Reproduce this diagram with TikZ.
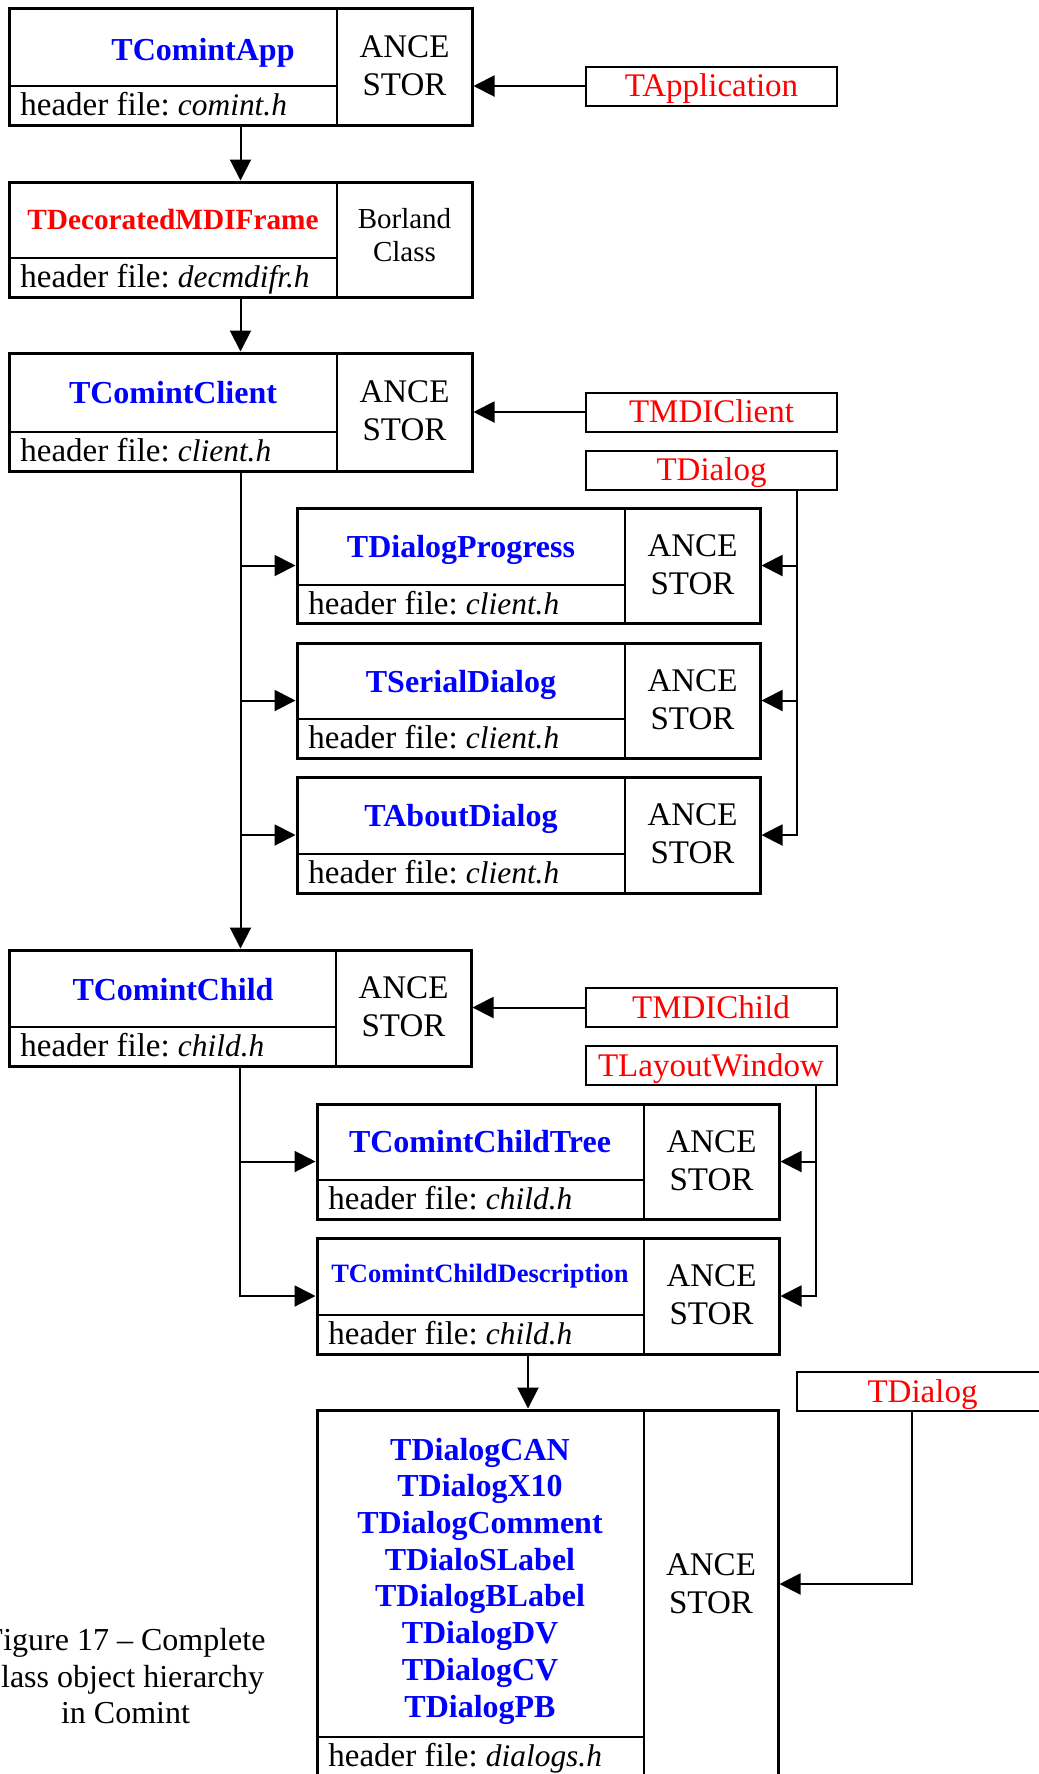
\documentclass[tikz,border=0pt]{standalone}
\usepackage{fontspec}
\setmainfont{Liberation Serif}
\usetikzlibrary{arrows.meta}
\definecolor{cblue}{RGB}{0,0,255}
\definecolor{cred}{RGB}{255,0,0}
\newcommand\regfont{\fontsize{16.5}{18.85}\selectfont\frenchspacing}
\newcommand\namefont{\fontsize{16}{18.35}\selectfont\bfseries}
\newcommand\hfname[1]{{\fontsize{15.7}{18}\selectfont\itshape #1}}
% #1 name, #2 left, #3 top, #4 right, #5 bottom, #6 vertical divider x, #7 horizontal divider y
\newcommand\clbox[7]{%
  \draw[divline] (#6,#3) -- (#6,#5);
  \draw[divline] (#2,#7) -- (#6,#7);
  \node[clsbox, minimum width={(#4-#2)*0.5pt}, minimum height={(#5-#3)*0.5pt}] (#1) at ({(#2+#4)/2},{(#3+#5)/2}) {};
}
\tikzset{
  clsbox/.style={draw, rectangle, line width=1.5pt, inner sep=0pt},
  divline/.style={line width=1pt},
  nm/.style={anchor=base, inner sep=0pt, font=\namefont, text=cblue},
  hd/.style={anchor=base west, inner sep=0pt, font=\regfont},
  anc/.style={align=center, inner sep=0pt, font=\regfont},
  pbox/.style={draw, rectangle, line width=1pt, inner sep=0pt, minimum width=125.5pt, minimum height=19.5pt, text height=11.5pt, text depth=0.6pt, text=cred, font=\regfont},
  arr/.style={line width=1pt, -{Triangle[length=10.5pt,width=10.5pt]}},
}
\begin{document}
\begin{tikzpicture}[x=0.5pt, y=-0.5pt]
\path[use as bounding box] (0,0) rectangle (1039,1774);
\clip (0,0) rectangle (1039,1774);

% class boxes
\clbox{B1}{9}{8}{472}{125}{337}{86}
\clbox{B2}{9}{182}{472}{297}{337}{258}
\clbox{B3}{9}{353}{472}{471}{337}{432}
\clbox{B4}{297}{508}{760}{623}{625}{585}
\clbox{B5}{297}{643}{760}{758}{625}{719}
\clbox{B6}{297}{777}{760}{893}{625}{854}
\clbox{B7}{9}{950}{471}{1066}{336}{1027}
\clbox{B8}{317}{1104}{779}{1219}{644}{1180}
\clbox{B9}{317}{1238}{779}{1354}{644}{1315}
\clbox{B10}{317}{1410}{778}{1790}{644}{1737}

% names
\node[nm] (n1) at (203,60) {TComintApp};
\node[nm, text=cred, font=\fontsize{14.65}{17}\selectfont\bfseries] (n2) at (173,229) {TDecoratedMDIFrame};
\node[nm] (n3) at (173,403) {TComintClient};
\node[nm] (n4) at (461,557) {TDialogProgress};
\node[nm] (n5) at (461,692) {TSerialDialog};
\node[nm] (n6) at (461,826.5) {TAboutDialog};
\node[nm] (n7) at (173,1000) {TComintChild};
\node[nm] (n8) at (480,1152) {TComintChildTree};
\node[nm, font=\fontsize{13.25}{15}\selectfont\bfseries] (n9) at (480,1282) {TComintChildDescription};
\node[nm, anchor=center, align=center] (n10) at (480,1581) {TDialogCAN\\TDialogX10\\TDialogComment\\TDialoSLabel\\TDialogBLabel\\TDialogDV\\TDialogCV\\TDialogPB};

% header files
\node[hd] (h1) at (20,115) {header file: \hfname{comint.h}};
\node[hd] (h2) at (20,287.5) {header file: \hfname{decmdifr.h}};
\node[hd] (h3) at (20,461.5) {header file: \hfname{client.h}};
\node[hd] (h4) at (308,614.5) {header file: \hfname{client.h}};
\node[hd] (h5) at (308,748.5) {header file: \hfname{client.h}};
\node[hd] (h6) at (308,883.5) {header file: \hfname{client.h}};
\node[hd] (h7) at (20,1056.5) {header file: \hfname{child.h}};
\node[hd] (h8) at (328,1209.5) {header file: \hfname{child.h}};
\node[hd] (h9) at (328,1344.5) {header file: \hfname{child.h}};
\node[hd] (h10) at (328,1766.5) {header file: \hfname{dialogs.h}};

% ancestor compartments
\node[anc] (a1) at (404.5,65.5) {ANCE\\STOR};
\node[anc, font=\fontsize{14.5}{16.85}\selectfont] (a2) at (404.5,235) {Borland\\Class};
\node[anc] (a3) at (404.5,411) {ANCE\\STOR};
\node[anc] (a4) at (692.5,564.5) {ANCE\\STOR};
\node[anc] (a5) at (692.5,699.5) {ANCE\\STOR};
\node[anc] (a6) at (692.5,834) {ANCE\\STOR};
\node[anc] (a7) at (403.5,1007) {ANCE\\STOR};
\node[anc] (a8) at (711.5,1160.5) {ANCE\\STOR};
\node[anc] (a9) at (711.5,1295) {ANCE\\STOR};
\node[anc] (a10) at (711,1584) {ANCE\\STOR};

% external (Borland) base classes
\node[pbox] (R1) at (711.5,86) {TApplication};
\node[pbox] (R2) at (711.5,412) {TMDIClient};
\node[pbox] (R3) at (711.5,470) {TDialog};
\node[pbox] (R4) at (711,1007.5) {TMDIChild};
\node[pbox] (R5) at (711,1065.5) {TLayoutWindow};
\node[pbox] (R6) at (922.5,1391.5) {TDialog};

% caption
\node[align=center, inner sep=0pt, font=\fontsize{16}{18.25}\selectfont] (cap) at (125.5,1676.5) {Figure 17 – Complete\\class object hierarchy\\in Comint};

% connectors: main chain
\draw[arr] (B1.south) -- (B2.north);
\draw[arr] (B2.south) -- (B3.north);
\draw[arr] (B3.south) -- (B3.south |- B7.north);
\draw[arr] (B3.south |- B4.west) -- (B4.west);
\draw[arr] (B3.south |- B5.west) -- (B5.west);
\draw[arr] (B3.south |- B6.west) -- (B6.west);
\draw[arr] (B7.south) |- (B9.west);
\draw[arr] (B7.south |- B8.west) -- (B8.west);
\coordinate (c9) at (528,0);
\draw[arr] (B9.south -| c9) -- (B10.north -| c9);

% connectors: Borland ancestors
\draw[arr] (R1.west) -- (R1.west -| B1.east);
\draw[arr] (R2.west) -- (R2.west -| B3.east);
\draw[arr] (R4.west) -- (R4.west -| B7.east);
\coordinate (c3) at (797,0);
\draw[arr] (R3.south -| c3) |- (B6.east);
\draw[arr] (c3 |- B4.east) -- (B4.east);
\draw[arr] (c3 |- B5.east) -- (B5.east);
\coordinate (c5) at (816,0);
\draw[arr] (R5.south -| c5) |- (B9.east);
\draw[arr] (c5 |- B8.east) -- (B8.east);
\coordinate (c6) at (912,1584);
\draw[arr] (R6.south -| c6) -- (c6) -- (c6 -| B10.east);
\end{tikzpicture}
\end{document}
